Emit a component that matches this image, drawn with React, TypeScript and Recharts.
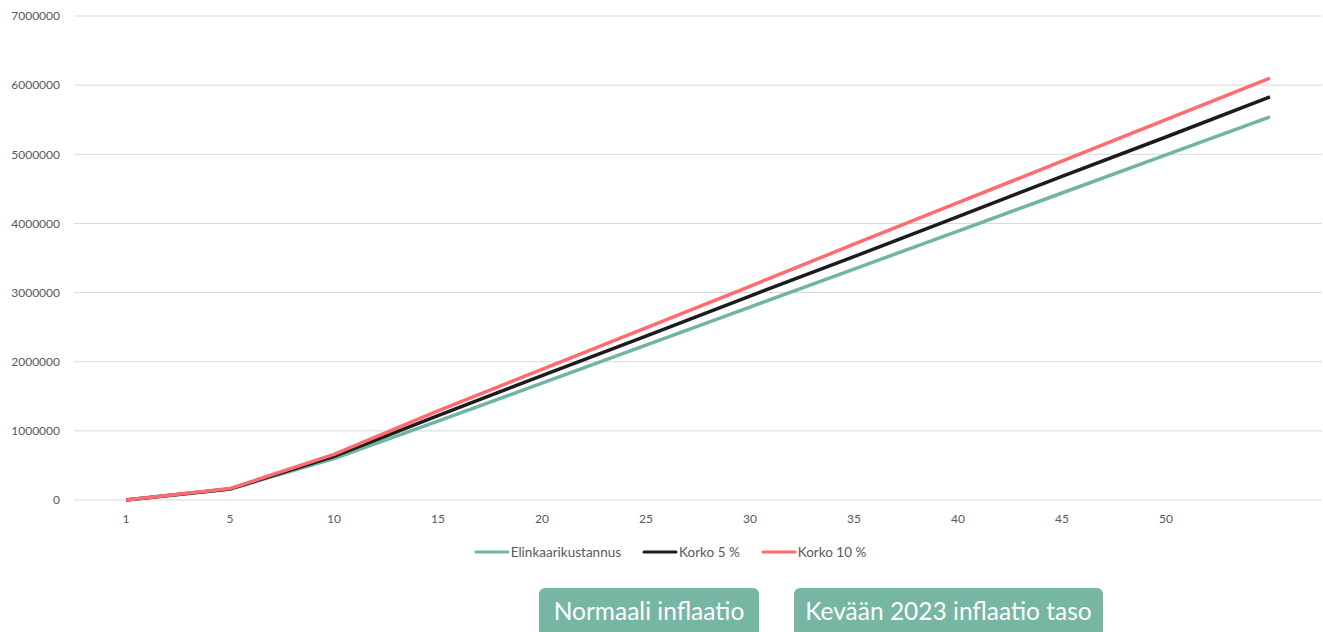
import React from 'react'
import { LineChart, Line, XAxis, YAxis, CartesianGrid, Legend } from 'recharts'

const years = ['1', '5', '10', '15', '20', '25', '30', '35', '40', '45', '50', '']
const elinkaari = [0, 160000, 600000, 1140000, 1690000, 2240000, 2790000, 3340000, 3890000, 4440000, 4990000, 5540000]
const korko5 = [0, 160000, 630000, 1220000, 1800000, 2370000, 2950000, 3520000, 4100000, 4680000, 5250000, 5830000]
const korko10 = [0, 165000, 660000, 1290000, 1890000, 2490000, 3090000, 3700000, 4300000, 4900000, 5500000, 6100000]
const yTicks = [0, 1000000, 2000000, 3000000, 4000000, 5000000, 6000000, 7000000]

const seriesDefs = [
  { key: 'Elinkaarikustannus', color: '#70b59f' },
  { key: 'Korko 5 %', color: '#1c1c1c' },
  { key: 'Korko 10 %', color: '#ff6b6f' },
]

const data = years.map((year, i) => ({
  year,
  Elinkaarikustannus: elinkaari[i],
  'Korko 5 %': korko5[i],
  'Korko 10 %': korko10[i],
}))

const FONT = 'Lato, "Open Sans", sans-serif'

function LegendContent() {
  return (
    <div style={{ display: 'flex', justifyContent: 'center', alignItems: 'center', gap: 21, fontFamily: FONT, fontSize: 13.5, color: '#595959', height: 24, paddingLeft: 18 }}>
      {seriesDefs.map((s) => (
        <div key={s.key} style={{ display: 'flex', alignItems: 'center' }}>
          <svg width={36} height={6} style={{ marginRight: 1 }}>
            <line x1={2} y1={3} x2={34} y2={3} stroke={s.color} strokeWidth={3} strokeLinecap="round" />
          </svg>
          <span>{s.key}</span>
        </div>
      ))}
    </div>
  )
}

const buttonStyle: React.CSSProperties = {
  position: 'absolute',
  top: 588,
  height: 56,
  background: '#76b6a2',
  borderRadius: 6,
  color: '#ffffff',
  fontFamily: FONT,
  fontSize: 24.5,
  fontWeight: 400,
  display: 'flex',
  justifyContent: 'center',
  paddingTop: 8,
  boxSizing: 'border-box',
}

export default function App() {
  return (
    <div style={{ position: 'absolute', left: 0, top: 0, width: 1323, height: 632, overflow: 'hidden', background: '#fff' }}>
      <LineChart width={1323} height={574} data={data} margin={{ top: 16, right: 1, left: 0, bottom: 10 }}>
        <CartesianGrid vertical={false} stroke="#d9d9d9" />
        <XAxis
          dataKey="year"
          axisLine={false}
          tickLine={false}
          height={40}
          tickMargin={8}
          padding={{ left: 52, right: 52 }}
          interval={0}
          tick={{ fill: '#595959', fontSize: 12, fontFamily: FONT }}
        />
        <YAxis
          domain={[0, 7000000]}
          ticks={yTicks}
          axisLine={false}
          tickLine={false}
          width={74}
          tickMargin={8}
          interval={0}
          tick={{ fill: '#595959', fontSize: 12, fontFamily: FONT }}
        />
        <Legend verticalAlign="bottom" content={<LegendContent />} wrapperStyle={{ height: 24 }} />
        {seriesDefs.map((s) => (
          <Line
            key={s.key}
            type="linear"
            dataKey={s.key}
            stroke={s.color}
            strokeWidth={3.5}
            dot={false}
            isAnimationActive={false}
          />
        ))}
      </LineChart>
      <div style={{ ...buttonStyle, left: 539, width: 220 }}>Normaali inflaatio</div>
      <div style={{ ...buttonStyle, left: 794, width: 309 }}>Kevään 2023 inflaatio taso</div>
    </div>
  )
}
